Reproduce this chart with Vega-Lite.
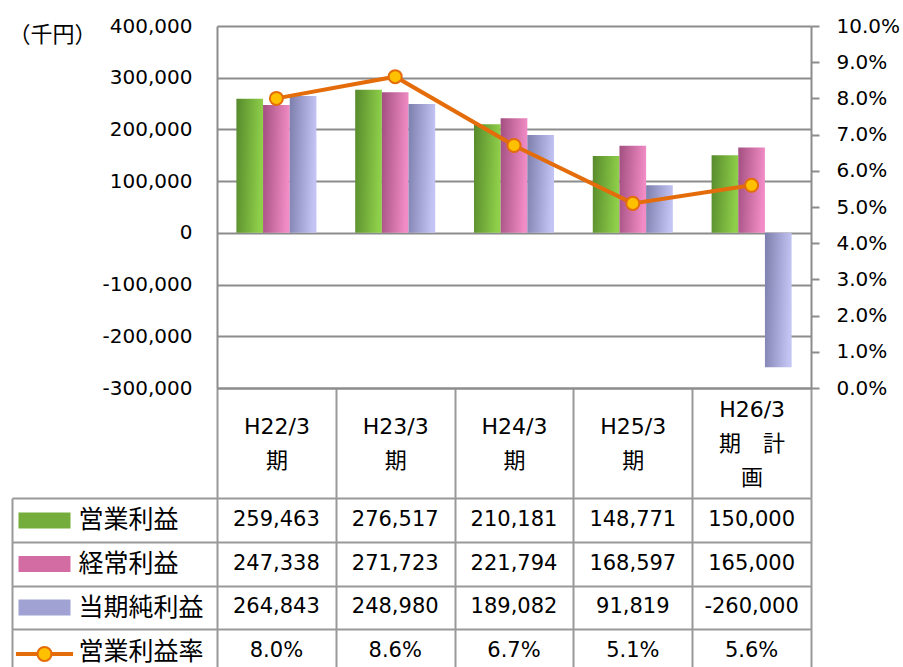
{
  "$schema": "https://vega.github.io/schema/vega-lite/v6.json",
  "background": "white",
  "padding": {"left": 8, "top": 16, "right": 0, "bottom": 0},
  "bounds": "flush",
  "spacing": 110,
  "config": {
    "font": "DejaVu Sans, Noto Sans CJK JP",
    "view": {"stroke": null},
    "axis": {"labelFont": "DejaVu Sans, Noto Sans CJK JP", "titleFont": "DejaVu Sans, Noto Sans CJK JP", "labelColor": "#000000", "titleColor": "#000000"},
    "legend": {"labelFont": "DejaVu Sans, Noto Sans CJK JP"}
  },
  "datasets": {
    "fin": [
      {"period": "H22/3期", "series": "営業利益", "value": 259463},
      {"period": "H23/3期", "series": "営業利益", "value": 276517},
      {"period": "H24/3期", "series": "営業利益", "value": 210181},
      {"period": "H25/3期", "series": "営業利益", "value": 148771},
      {"period": "H26/3期計画", "series": "営業利益", "value": 150000},
      {"period": "H22/3期", "series": "経常利益", "value": 247338},
      {"period": "H23/3期", "series": "経常利益", "value": 271723},
      {"period": "H24/3期", "series": "経常利益", "value": 221794},
      {"period": "H25/3期", "series": "経常利益", "value": 168597},
      {"period": "H26/3期計画", "series": "経常利益", "value": 165000},
      {"period": "H22/3期", "series": "当期純利益", "value": 264843},
      {"period": "H23/3期", "series": "当期純利益", "value": 248980},
      {"period": "H24/3期", "series": "当期純利益", "value": 189082},
      {"period": "H25/3期", "series": "当期純利益", "value": 91819},
      {"period": "H26/3期計画", "series": "当期純利益", "value": -260000},
      {"period": "H22/3期", "series": "営業利益率", "value": 0.080},
      {"period": "H23/3期", "series": "営業利益率", "value": 0.086},
      {"period": "H24/3期", "series": "営業利益率", "value": 0.067},
      {"period": "H25/3期", "series": "営業利益率", "value": 0.051},
      {"period": "H26/3期計画", "series": "営業利益率", "value": 0.056}
    ]
  },
  "vconcat": [
    {
      "width": 594,
      "height": 362,
      "data": {"name": "fin"},
      "encoding": {
        "x": {
          "field": "period", "type": "nominal", "sort": null,
          "scale": {"domain": ["H22/3期", "H23/3期", "H24/3期", "H25/3期", "H26/3期計画"], "paddingInner": 0, "paddingOuter": 0},
          "axis": {
            "title": null, "orient": "bottom", "labelAngle": 0, "tickBand": "extent",
            "ticks": true, "tickSize": 110, "tickColor": "#999999", "tickWidth": 2,
            "domain": true, "domainColor": "#8c8c8c", "domainWidth": 2, "grid": false,
            "labelPadding": {"condition": {"test": "datum.value == 'H26/3期計画'", "value": -89}, "value": -72},
            "labelBaseline": "middle", "labelLineHeight": 34, "labelFontSize": 22, "labelFlush": false, "labelOverlap": false, "labelBound": false,
            "labelExpr": "!datum.label ? '' : datum.label == 'H26/3期計画' ? ['H26/3', '期　計', '画'] : [replace(datum.label, '期', ''), '期']"
          }
        }
      },
      "layer": [
        {
          "encoding": {
            "y": {"field": "value", "type": "quantitative", "scale": {"domain": [-300000, 400000], "nice": false},
              "axis": {"title": "（千円）", "titleAngle": 0, "titleAlign": "left", "titleBaseline": "middle", "titleX": -209, "titleY": 8, "titleFontSize": 22, "titleFontWeight": "normal",
                "labelExpr": "replace(format(datum.value, ','), '−', '-')", "values": [-300000, -200000, -100000, 0, 100000, 200000, 300000, 400000],
                "ticks": false, "tickSize": 0, "labelPadding": 25, "labelFontSize": 20,
                "grid": true, "gridColor": "#8c8c8c", "gridWidth": 2, "domain": true, "domainColor": "#8c8c8c", "domainWidth": 2}},
            "xOffset": {"field": "series", "type": "nominal", "scale": {"domain": ["営業利益", "経常利益", "当期純利益"], "paddingInner": 0, "paddingOuter": 0.727}}
          },
          "layer": [
            {
              "transform": [{"filter": "datum.series == '営業利益'"}],
              "mark": {"type": "bar", "fill": {"gradient": "linear", "x1": 0, "y1": 0, "x2": 1, "y2": 0.15, "stops": [{"offset": 0, "color": "#578a2c"}, {"offset": 1, "color": "#8fd04a"}]}}
            },
            {
              "transform": [{"filter": "datum.series == '経常利益'"}],
              "mark": {"type": "bar", "fill": {"gradient": "linear", "x1": 0, "y1": 0, "x2": 1, "y2": 0.15, "stops": [{"offset": 0, "color": "#a24f80"}, {"offset": 1, "color": "#f28cc6"}]}}
            },
            {
              "transform": [{"filter": "datum.series == '当期純利益'"}],
              "mark": {"type": "bar", "fill": {"gradient": "linear", "x1": 0, "y1": 0, "x2": 1, "y2": 0.15, "stops": [{"offset": 0, "color": "#7c7eac"}, {"offset": 1, "color": "#c4c4f4"}]}}
            }
          ]
        },
        {
          "transform": [{"filter": "datum.series == '営業利益率'"}],
          "encoding": {
            "y": {"field": "value", "type": "quantitative", "scale": {"domain": [0, 0.1], "nice": false},
              "axis": {"title": null, "orient": "right", "format": ".1%", "values": [0, 0.01, 0.02, 0.03, 0.04, 0.05, 0.06, 0.07, 0.08, 0.09, 0.1],
                "ticks": true, "tickSize": 8, "tickColor": "#8c8c8c", "tickWidth": 2, "labelPadding": 17, "labelFontSize": 20,
                "grid": false, "domain": true, "domainColor": "#8c8c8c", "domainWidth": 2}}
          },
          "layer": [
            {"mark": {"type": "line", "color": "#E46C0A", "strokeWidth": 4}},
            {"mark": {"type": "point", "filled": true, "fill": "#FFC000", "stroke": "#E46C0A", "strokeWidth": 2, "size": 170, "opacity": 1}}
          ]
        }
      ],
      "resolve": {"scale": {"y": "independent"}}
    },
    {
      "width": 594,
      "height": 175,
      "data": {"name": "fin"},
      "transform": [{"calculate": "datum.series == '営業利益率' ? format(datum.value, '.1%') : replace(format(datum.value, ','), '−', '-')", "as": "label"}],
      "encoding": {
        "x": {
          "field": "period", "type": "nominal", "sort": null,
          "scale": {"domain": ["H22/3期", "H23/3期", "H24/3期", "H25/3期", "H26/3期計画"], "paddingInner": 0, "paddingOuter": 0},
          "axis": {"title": null, "orient": "top", "labels": false, "ticks": false, "domain": false, "grid": true, "tickBand": "extent", "gridColor": "#999999", "gridWidth": 2}
        },
        "y": {
          "field": "series", "type": "nominal", "sort": null,
          "scale": {"domain": ["営業利益", "経常利益", "当期純利益", "営業利益率"], "paddingInner": 0, "paddingOuter": 0},
          "axis": {"title": null, "orient": "left", "grid": true, "tickBand": "extent", "gridColor": "#999999", "gridWidth": 2,
            "offset": 205, "ticks": true, "tickSize": -205, "tickColor": "#999999", "tickWidth": 2,
            "domain": true, "domainColor": "#999999", "domainWidth": 2,
            "labelAlign": "left", "labelBaseline": "middle", "labelPadding": 139, "labelFontSize": 25}
        }
      },
      "layer": [
        {"mark": {"type": "text", "fontSize": 21, "color": "#000000"}, "encoding": {"text": {"field": "label"}}},
        {
          "mark": {"type": "square", "opacity": 0},
          "encoding": {
            "color": {"field": "series", "type": "nominal",
              "scale": {"domain": ["営業利益", "経常利益", "当期純利益", "営業利益率"], "range": ["#74ad3c", "#d46ca4", "#a0a2d4", "#FFC000"]},
              "legend": {
                "orient": "none", "legendX": -173, "legendY": 494, "title": null, "padding": 0,
                "labelExpr": "''", "labelFontSize": 1, "rowPadding": 26.5, "symbolSize": 2704, "symbolOpacity": 1,
                "symbolType": "M-1,-0.31H1V0.31H-1Z", "symbolStrokeWidth": 0,
                "encode": {
                  "symbols": {
                    "update": {
                      "shape": {"signal": "datum.value == '営業利益率' ? 'M-1.06,-0.04H-0.26V0.04H-1.06Z M0.26,-0.04H1.06V0.04H0.26Z M0.27,0A0.27,0.27 0 1,1 -0.27,0A0.27,0.27 0 1,1 0.27,0Z' : 'M-1,-0.31H1V0.31H-1Z'"},
                      "stroke": {"value": "#E46C0A"},
                      "strokeWidth": {"signal": "datum.value == '営業利益率' ? 2 : 0"}
                    }
                  }
                }
              }
            }
          }
        }
      ]
    }
  ]
}
